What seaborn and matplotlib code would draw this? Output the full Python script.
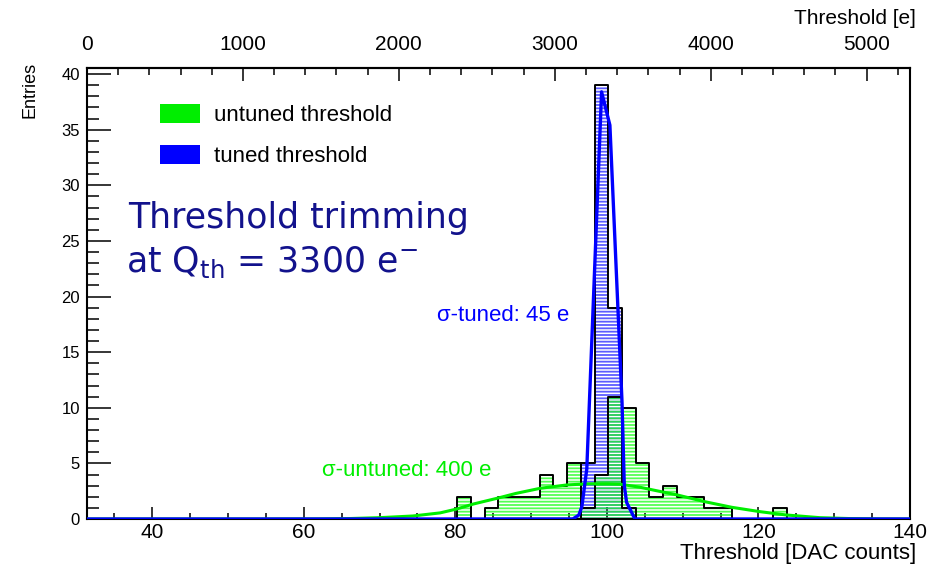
import numpy as np
import pandas as pd
import matplotlib
matplotlib.use("Agg")
import matplotlib.pyplot as plt
import seaborn as sns
from matplotlib.patches import Patch
from matplotlib.ticker import MultipleLocator, FixedLocator

# ---------------- data ----------------
x_min, x_max = 31.4, 140.0          # DAC axis range
n_axis_bins = 60                     # histogram binning over the axis range
y_max = 40.54
e_per_dac = 48.6                     # top-axis conversion (electrons per DAC count)
top_major_ticks = [0, 1000, 2000, 3000, 4000, 5000]
top_minor_ticks = list(range(0, 5201, 200))

untuned_first_bin = 27
untuned_counts = [2, 0, 1, 2, 2, 2, 4, 3, 5, 1, 4, 11, 10, 5, 2, 3, 2, 2, 1, 1, 0, 0, 0, 1]
tuned_first_bin = 36
tuned_counts = [5, 39, 19, 1]

untuned_fit_x = [31.4, 55.0, 62.0, 66.0, 70.0, 74.4, 78.0, 80.2, 82.4, 85.5, 88.0, 91.2,
                 94.7, 97.4, 100.0, 101.7, 104.4, 106.5, 109.3, 112.9, 116.5, 120.2,
                 123.7, 128.1, 132.0, 136.0, 140.0]
untuned_fit_y = [0.0, 0.0, 0.01, 0.04, 0.12, 0.27, 0.55, 0.9, 1.35, 1.86, 2.3, 2.76,
                 3.06, 3.16, 3.17, 3.14, 2.85, 2.55, 2.16, 1.56, 1.05, 0.66,
                 0.36, 0.12, 0.04, 0.01, 0.0]

tuned_fit_x = [31.4, 95.5, 96.3, 96.7, 97.35, 99.3, 100.4, 102.0, 102.3, 102.6, 103.7, 140.0]
tuned_fit_y = [0.0, 0.0, 0.35, 1.1, 4.5, 38.4, 35.4, 10.5, 3.0, 1.5, 0.0, 0.0]

legend_labels = ["untuned threshold", "tuned threshold"]
untuned_sigma_label = "σ-untuned: 400 e"
tuned_sigma_label = "σ-tuned: 45 e"

# ---------------- style ----------------
GREEN = "#00ee00"
BLUE = "#0000ff"
NAVY = "#12128c"
SANS = ["Liberation Sans", "DejaVu Sans"]

sns.set_theme(style="white")
plt.rcParams["font.family"] = SANS
plt.rcParams["hatch.linewidth"] = 1.3
plt.rcParams["axes.linewidth"] = 1.5
for key in ["text.color", "xtick.color", "ytick.color", "axes.labelcolor",
            "axes.edgecolor", "xtick.labelcolor", "ytick.labelcolor"]:
    plt.rcParams[key] = "black"

W, H = 939, 567
fig = plt.figure(figsize=(W / 100, H / 100), dpi=100)
ax = fig.add_axes([87 / W, 48 / H, 823 / W, 451 / H])

bw = (x_max - x_min) / n_axis_bins


def hist_frame(first_bin, counts, pad=0):
    c = [0] * pad + list(counts) + [0] * pad
    k0 = first_bin - pad
    edges = [float(x_min + bw * k) for k in range(k0, k0 + len(c) + 1)]
    centers = [0.5 * (edges[i] + edges[i + 1]) for i in range(len(c))]
    return pd.DataFrame({"x": centers, "w": c}), edges


# hatched fills
df_t, ed_t = hist_frame(tuned_first_bin, tuned_counts)
sns.histplot(data=df_t, x="x", weights="w", bins=ed_t, element="bars", fill=True,
             facecolor="none", edgecolor=(0.2, 0.2, 1.0, 0.8), linewidth=0,
             hatch="-----", ax=ax, zorder=2)
df_u, ed_u = hist_frame(untuned_first_bin, untuned_counts)
sns.histplot(data=df_u, x="x", weights="w", bins=ed_u, element="bars", fill=True,
             facecolor="none", edgecolor=(0.1, 1.0, 0.1, 0.75), linewidth=0,
             hatch="-----", ax=ax, zorder=2)

# black outlines
df_to, ed_to = hist_frame(tuned_first_bin, tuned_counts, pad=1)
sns.histplot(data=df_to, x="x", weights="w", bins=ed_to, element="step", fill=False,
             color="black", linewidth=1.4, ax=ax, zorder=3)
df_uo, ed_uo = hist_frame(untuned_first_bin, untuned_counts, pad=1)
sns.histplot(data=df_uo, x="x", weights="w", bins=ed_uo, element="step", fill=False,
             color="black", linewidth=1.4, ax=ax, zorder=3)

# fit curves
sns.lineplot(x=untuned_fit_x, y=untuned_fit_y, color=GREEN, linewidth=2.2,
             sort=False, estimator=None, legend=False, ax=ax, zorder=4)
sns.lineplot(x=tuned_fit_x, y=tuned_fit_y, color=BLUE, linewidth=2.4,
             sort=False, estimator=None, legend=False, ax=ax, zorder=5)

# axes
ax.set_xlim(x_min, x_max)
ax.set_ylim(0, y_max)
ax.set_xlabel("")
ax.set_ylabel("")
ax.xaxis.set_major_locator(MultipleLocator(20))
ax.xaxis.set_minor_locator(MultipleLocator(5))
ax.yaxis.set_major_locator(MultipleLocator(5))
ax.yaxis.set_minor_locator(MultipleLocator(1))
ax.tick_params(axis="x", which="both", direction="in", bottom=True, top=False,
               width=1.1, color="black", labelcolor="black")
ax.tick_params(axis="x", which="major", length=9, pad=3, labelsize=15)
ax.tick_params(axis="x", which="minor", length=4.3)
ax.tick_params(axis="y", which="both", direction="in", left=True, right=False,
               width=1.1, color="black", labelcolor="black")
ax.tick_params(axis="y", which="major", length=17, pad=5, labelsize=12)
ax.tick_params(axis="y", which="minor", length=8.6)
for sp in ax.spines.values():
    sp.set_color("black")
    sp.set_linewidth(1.5)

sec = ax.secondary_xaxis("top",
                         functions=(lambda d: (d - x_min) * e_per_dac,
                                    lambda e: e / e_per_dac + x_min))
sec.xaxis.set_major_locator(FixedLocator(top_major_ticks))
sec.xaxis.set_minor_locator(FixedLocator(top_minor_ticks))
sec.tick_params(axis="x", which="both", direction="in", width=1.1, color="black",
                labelcolor="black")
sec.tick_params(axis="x", which="major", length=9.4, pad=10, labelsize=15)
sec.tick_params(axis="x", which="minor", length=4.8)
sec.spines["top"].set_linewidth(1.5)
sec.spines["top"].set_color("black")

# axis titles
fig.text(916 / W, 1 - 553 / H, "Threshold [DAC counts]", ha="right", va="center",
         fontsize=16, color="black")
fig.text(916 / W, 1 - 18 / H, "Threshold [e]", ha="right", va="center",
         fontsize=15, color="black")
fig.text(30 / W, 1 - 62 / H, "Entries", rotation=90, ha="center", va="top",
         fontsize=13, color="black")

# legend
handles = [Patch(facecolor=GREEN, edgecolor="none"), Patch(facecolor=BLUE, edgecolor="none")]
leg = ax.legend(handles, legend_labels, loc="upper left",
                bbox_to_anchor=(160 / W, 1 - 104 / H), bbox_transform=fig.transFigure,
                frameon=False, handlelength=1.8, handleheight=0.95,
                handletextpad=0.65, labelspacing=0.83, borderpad=0, borderaxespad=0,
                prop={"size": 16})
for t in leg.get_texts():
    t.set_color("black")

# annotations
ax.text(77.6, 18.3, tuned_sigma_label, color=BLUE, fontsize=16, ha="left",
        va="center")
ax.text(62.4, 4.4, untuned_sigma_label, color=GREEN, fontsize=16, ha="left",
        va="center")

fig.text(128 / W, 1 - 228 / H, "Threshold trimming", color=NAVY, fontsize=25,
         ha="left", va="baseline", family=["DejaVu Sans"])
fig.text(126 / W, 1 - 272 / H, r"at Q$_{\rm th}$ = 3300 e$^{-}$", color=NAVY,
         fontsize=25, ha="left", va="baseline", family=["DejaVu Sans"])

fig.savefig("out.png", dpi=100, facecolor="white")
